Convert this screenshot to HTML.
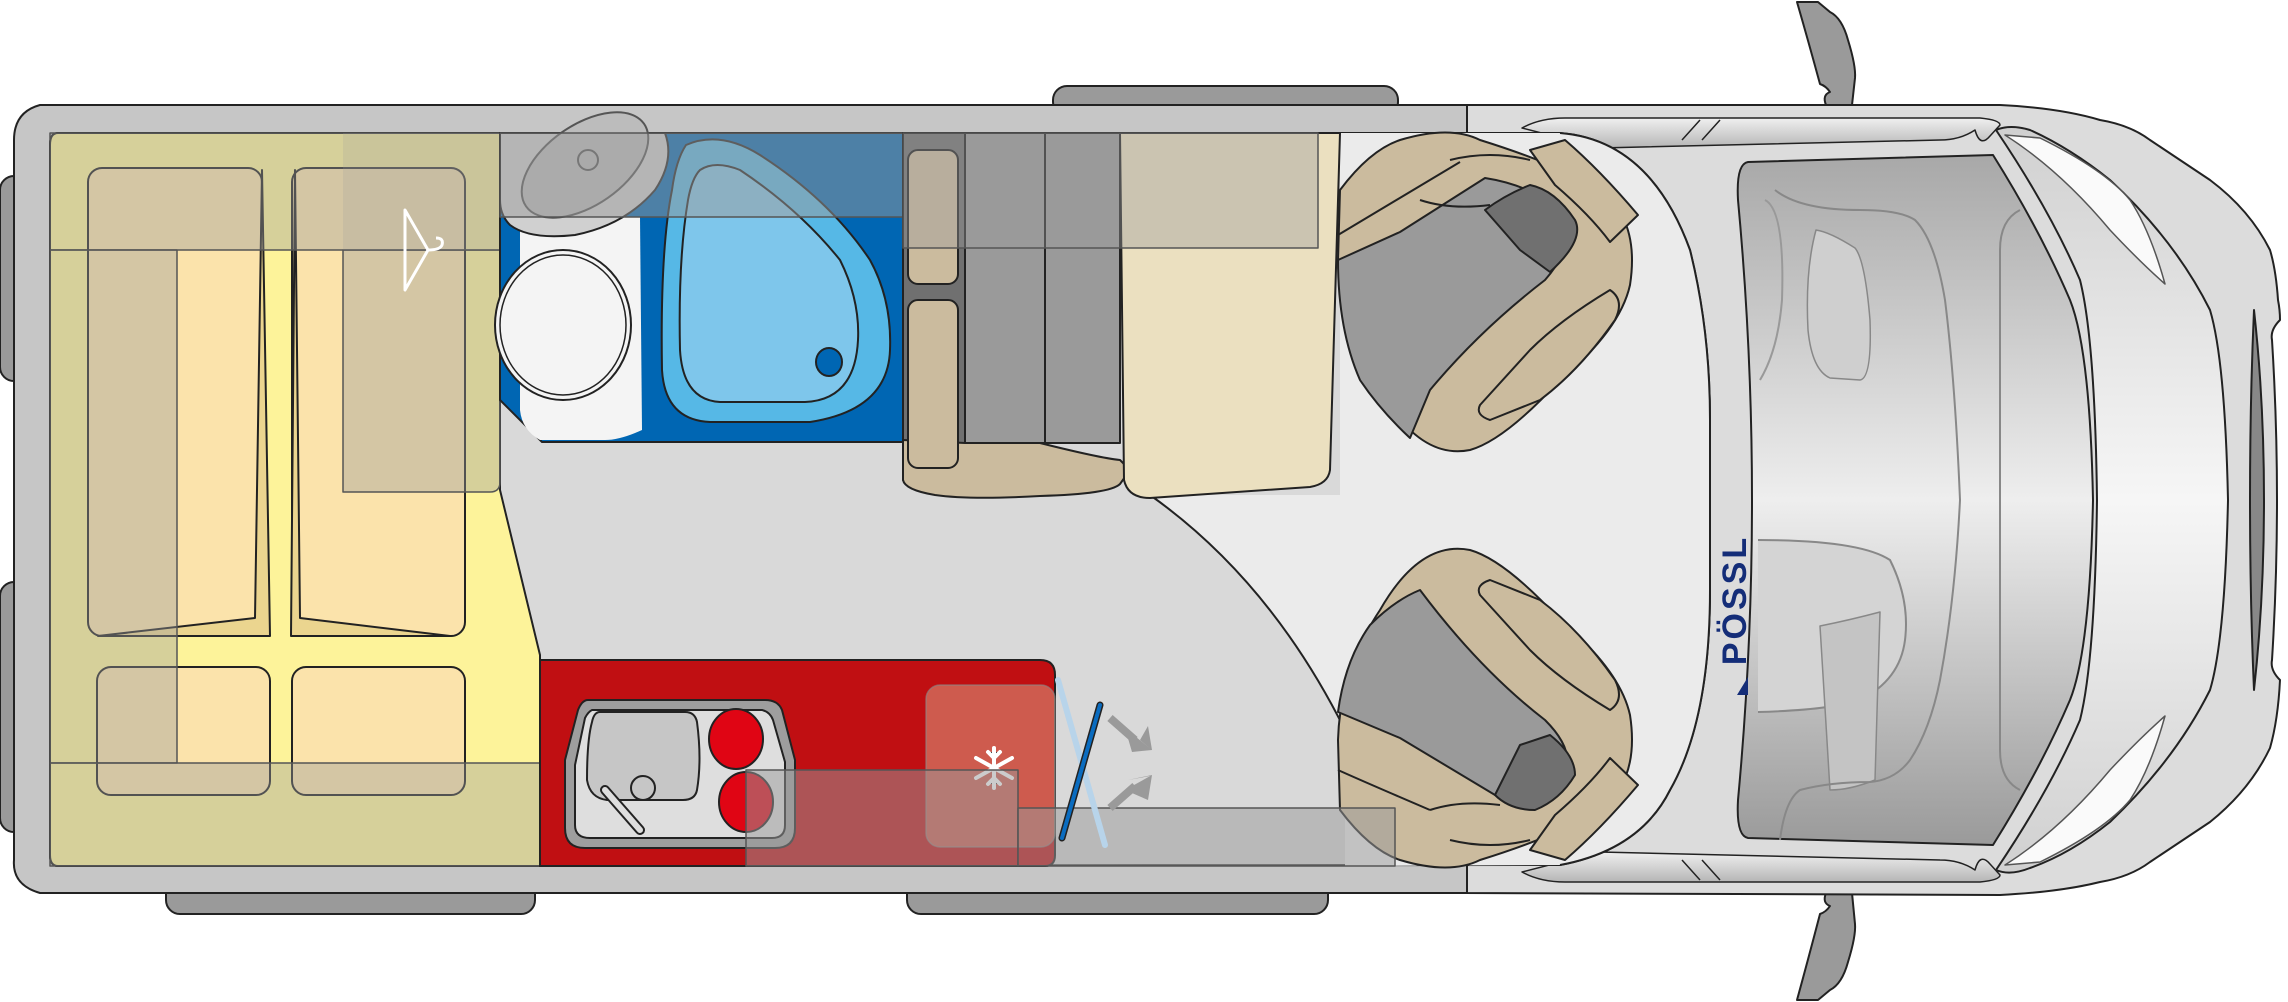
<!DOCTYPE html>
<html><head><meta charset="utf-8"><style>
html,body{margin:0;padding:0;background:#fff;}
svg{display:block;}
</style></head><body>
<svg width="2288" height="1002" viewBox="0 0 2288 1002" xmlns="http://www.w3.org/2000/svg" stroke-linejoin="round">
<defs>
<linearGradient id="dash" x1="0" y1="0" x2="0" y2="1">
<stop offset="0" stop-color="#a8a8a8"/><stop offset="0.5" stop-color="#eeeeee"/><stop offset="1" stop-color="#9a9a9a"/>
</linearGradient>
<linearGradient id="hood" x1="0" y1="0" x2="0" y2="1">
<stop offset="0" stop-color="#d0d0d0"/><stop offset="0.5" stop-color="#f6f6f6"/><stop offset="1" stop-color="#d0d0d0"/>
</linearGradient>
<linearGradient id="bar" x1="0" y1="0" x2="0" y2="1">
<stop offset="0" stop-color="#f0f0f0"/><stop offset="1" stop-color="#b5b5b5"/>
</linearGradient>
</defs>

<path d="M1797 2 L1818 2 L1830 12 Q1842 18 1848 40 Q1856 66 1855 78 L1852 105 L1826 105 Q1822 95 1830 92 Q1826 86 1820 84 Q1808 40 1797 2Z" fill="#9a9a9a" stroke="#222" stroke-width="2"/>
<path d="M1797 1000 L1818 1000 L1830 990 Q1842 984 1848 962 Q1856 936 1855 924 L1852 893 L1826 893 Q1822 903 1830 906 Q1826 912 1820 914 Q1808 960 1797 1000Z" fill="#9a9a9a" stroke="#222" stroke-width="2"/>

<rect x="1053" y="86" width="345" height="30" rx="14" fill="#9a9a9a" stroke="#222" stroke-width="2"/>
<rect x="166" y="880" width="369" height="34" rx="14" fill="#9a9a9a" stroke="#222" stroke-width="2"/>
<rect x="907" y="880" width="421" height="34" rx="14" fill="#9a9a9a" stroke="#222" stroke-width="2"/>
<rect x="0" y="176" width="30" height="205" rx="14" fill="#9a9a9a" stroke="#222" stroke-width="2"/>
<rect x="0" y="582" width="30" height="250" rx="14" fill="#9a9a9a" stroke="#222" stroke-width="2"/>

<path d="M1465 105 L2000 105 Q2060 108 2100 120 Q2130 125 2150 140 L2210 180 Q2250 210 2270 250 Q2276 270 2278 300 Q2280 310 2280 320 Q2270 330 2272 340 Q2282 500 2272 660 Q2270 670 2280 680 Q2278 720 2270 748 Q2250 790 2210 822 L2150 862 Q2130 877 2100 882 Q2060 892 2000 895 L1465 893Z" fill="#dcdcdc" stroke="#222" stroke-width="2"/>
<path d="M1996 130 Q2010 124 2030 130 Q2070 148 2110 180 Q2175 240 2210 310 Q2225 360 2228 500 Q2225 640 2210 690 Q2175 760 2110 822 Q2070 854 2030 868 Q2010 876 1996 870 Q2050 790 2080 720 Q2095 660 2097 500 Q2095 340 2080 280 Q2050 210 1996 130Z" fill="url(#hood)" stroke="#222" stroke-width="2"/>
<path d="M2005 135 Q2060 170 2110 230 Q2140 262 2165 284 Q2150 230 2130 200 Q2105 170 2040 138Z" fill="#fafafa" stroke="#555" stroke-width="1.5"/>
<path d="M2005 865 Q2060 830 2110 770 Q2140 738 2165 716 Q2150 770 2130 800 Q2105 830 2040 862Z" fill="#fafafa" stroke="#555" stroke-width="1.5"/>
<path d="M2254 310 Q2264 400 2264 500 Q2264 600 2254 690 Q2250 600 2250 500 Q2250 400 2254 310Z" fill="#888" stroke="#222" stroke-width="2"/>
<path d="M1748 162 L1993 155 Q2040 230 2070 300 Q2090 350 2093 500 Q2090 650 2070 700 Q2040 770 1993 845 L1748 838 Q1736 836 1738 800 Q1752 650 1752 500 Q1752 350 1738 200 Q1736 164 1748 162Z" fill="url(#dash)" stroke="#222" stroke-width="2"/>
<path d="M1765 200 Q1785 210 1782 300 Q1778 350 1760 380" fill="none" stroke="#999" stroke-width="2"/>
<path d="M1816 230 Q1830 232 1855 248 Q1865 260 1870 320 Q1872 378 1860 380 L1830 378 Q1812 370 1808 330 Q1805 270 1816 230Z" fill="#cfcfcf" stroke="#888" stroke-width="1.5"/>
<path d="M1758 540 Q1860 540 1890 560 Q1910 600 1905 640 Q1900 680 1860 700 Q1830 710 1758 712" fill="#d4d4d4" stroke="#888" stroke-width="2"/>
<path d="M1820 626 Q1850 620 1880 612 L1875 780 Q1850 790 1830 790Z" fill="#c4c4c4" stroke="#888" stroke-width="1.5"/>
<path d="M1780 840 Q1785 800 1800 790 Q1830 782 1870 782 Q1895 780 1910 760 Q1930 730 1940 680 Q1955 600 1960 500 Q1955 380 1945 300 Q1935 240 1915 220 Q1900 210 1860 210 Q1800 210 1775 190" fill="none" stroke="#888" stroke-width="2"/>
<path d="M2020 210 Q2000 220 2000 250 L2000 500 L2000 750 Q2000 780 2020 790" fill="none" stroke="#888" stroke-width="2"/>
<path d="M1522 128 Q1540 118 1565 118 L1980 118 Q2000 120 2000 125 L1990 136 Q1980 148 1975 130 Q1960 140 1940 140 L1600 148Z" fill="url(#bar)" stroke="#222" stroke-width="1.5"/>
<path d="M1522 872 Q1540 882 1565 882 L1980 882 Q2000 880 2000 875 L1990 864 Q1980 852 1975 870 Q1960 860 1940 860 L1600 852Z" fill="url(#bar)" stroke="#222" stroke-width="1.5"/>
<path d="M1682 140 L1700 120 M1702 140 L1720 120 M1682 860 L1700 880 M1702 860 L1720 880" stroke="#222" stroke-width="1.5"/>

<!-- living body -->
<path d="M40 105 L1467 105 L1467 893 L40 893 Q12 885 14 860 L14 140 Q14 112 40 105Z" fill="#c6c6c6" stroke="#222" stroke-width="2"/>
<!-- floor -->
<path d="M58 133 L1560 133 Q1650 140 1690 250 Q1710 330 1710 420 L1710 590 Q1710 720 1670 790 Q1640 850 1560 865 L58 866 Q50 866 50 855 L50 145 Q50 133 58 133Z" fill="#d9d9d9" stroke="#222" stroke-width="2"/>
<path d="M1150 495 L1340 495 L1340 133 L1560 133 Q1650 140 1690 250 Q1710 330 1710 420 L1710 590 Q1710 720 1670 790 Q1640 850 1560 865 L1345 866 L1345 730 Q1270 580 1150 495Z" fill="#ebebeb"/>
<path d="M1560 133 Q1650 140 1690 250 Q1710 330 1710 420 L1710 590 Q1710 720 1670 790 Q1640 850 1560 865" fill="none" stroke="#222" stroke-width="2"/>
<path d="M1150 495 Q1270 580 1345 730" fill="none" stroke="#222" stroke-width="2"/>

<path d="M58 133 L500 133 L500 490 L540 655 L540 866 L58 866 Q50 866 50 855 L50 145 Q50 133 58 133Z" fill="#fdf39a" stroke="#222" stroke-width="2"/>
<rect x="88" y="168" width="174" height="468" rx="14" fill="#fbe3ab" stroke="#222" stroke-width="2"/>
<rect x="292" y="168" width="173" height="468" rx="14" fill="#fbe3ab" stroke="#222" stroke-width="2"/>
<path d="M98 636 L255 618 L262 170 L270 636Z" fill="#ebd58f" stroke="#222" stroke-width="2"/>
<path d="M291 636 L295 170 L300 618 L450 636Z" fill="#ebd58f" stroke="#222" stroke-width="2"/>
<rect x="97" y="667" width="173" height="128" rx="14" fill="#fbe3ab" stroke="#222" stroke-width="2"/>
<rect x="292" y="667" width="173" height="128" rx="14" fill="#fbe3ab" stroke="#222" stroke-width="2"/>
<path d="M50 133 L500 133 L500 250 L50 250Z" fill="#9a9a9a" fill-opacity="0.4" stroke="#555" stroke-width="1.5"/>
<rect x="50" y="250" width="127" height="513" fill="#9a9a9a" fill-opacity="0.4" stroke="#555" stroke-width="1.5"/>
<rect x="50" y="763" width="490" height="103" fill="#9a9a9a" fill-opacity="0.4" stroke="#555" stroke-width="1.5"/>
<path d="M343 250 L500 250 L500 482 Q500 492 490 492 L343 492Z" fill="#9a9a9a" fill-opacity="0.4" stroke="#555" stroke-width="1.5"/>
<path d="M343 133 L500 133 L500 250 L343 250Z" fill="#9a9a9a" fill-opacity="0.2"/>
<path d="M405 210 L428 250 L405 290 Z M428 250 Q440 250 442 245 Q444 238 436 238" fill="none" stroke="#fff" stroke-width="3"/>

<path d="M500 133 L903 133 L903 442 L542 442 L500 400Z" fill="#0066b3" stroke="#222" stroke-width="2"/>
<path d="M520 217 L640 217 L642 430 Q620 440 605 440 L540 440 Q522 430 520 410Z" fill="#f4f4f4"/>
<ellipse cx="563" cy="325" rx="75" ry="68" transform="rotate(90 563 325)" fill="#f4f4f4" stroke="#222" stroke-width="2"/>
<ellipse cx="563" cy="325" rx="70" ry="63" transform="rotate(90 563 325)" fill="none" stroke="#222" stroke-width="1.5"/>
<path d="M686 145 Q720 130 760 155 Q830 200 870 260 Q892 300 890 350 Q888 410 810 422 L710 422 Q665 420 662 370 Q660 250 672 190 Q676 160 686 145Z" fill="#56b8e6" stroke="#222" stroke-width="2"/>
<path d="M700 170 Q715 160 740 170 Q800 210 840 260 Q860 300 858 340 Q855 400 805 402 L720 402 Q683 400 680 350 Q678 260 688 200 Q692 178 700 170Z" fill="#7ec6eb" stroke="#222" stroke-width="2"/>
<ellipse cx="829" cy="362" rx="13" ry="14" fill="#0066b3" stroke="#222" stroke-width="2"/>
<path d="M500 133 L665 133 Q675 160 655 190 Q625 225 575 235 Q530 240 510 225 Q500 215 500 200Z" fill="#d0d0d0" stroke="#222" stroke-width="2"/>
<ellipse cx="585" cy="165" rx="40" ry="72" transform="rotate(55 585 165)" fill="#bcbcbc" stroke="#555" stroke-width="2"/>
<circle cx="588" cy="160" r="10" fill="#bbb" stroke="#555" stroke-width="2"/>
<rect x="500" y="133" width="403" height="84" fill="#9a9a9a" fill-opacity="0.5" stroke="#555" stroke-width="1.5"/>

<rect x="903" y="133" width="62" height="347" fill="#707070" stroke="#222" stroke-width="2"/>
<rect x="965" y="133" width="155" height="310" fill="#9a9a9a" stroke="#222" stroke-width="2"/>
<line x1="1045" y1="133" x2="1045" y2="443" stroke="#222" stroke-width="2"/>
<path d="M903 480 Q905 490 935 495 Q970 500 1040 496 Q1110 494 1120 484 L1130 470 L1120 460 Q1100 458 1040 443 L965 443 L903 440Z" fill="#cbbb9e" stroke="#222" stroke-width="2"/>
<rect x="908" y="150" width="50" height="134" rx="10" fill="#cbbb9e" stroke="#222" stroke-width="2"/>
<rect x="908" y="300" width="50" height="168" rx="10" fill="#cbbb9e" stroke="#222" stroke-width="2"/>
<path d="M1120 133 L1340 133 L1330 470 Q1328 484 1310 487 L1150 498 Q1128 498 1124 480Z" fill="#ebe0c0" stroke="#222" stroke-width="2"/>
<rect x="903" y="133" width="415" height="115" fill="#9a9a9a" fill-opacity="0.4" stroke="#555" stroke-width="1.5"/>

<path d="M1340 190 Q1370 150 1400 140 Q1450 125 1480 140 Q1560 165 1600 190 Q1640 220 1630 285 Q1620 330 1560 380 Q1505 440 1470 450 Q1420 460 1380 390 Q1340 330 1338 260Z" fill="#cbbb9e" stroke="#222" stroke-width="2"/>
<path d="M1338 260 L1400 232 L1485 178 Q1530 185 1560 210 Q1580 240 1545 280 Q1480 330 1430 390 L1410 438 Q1380 410 1360 380 Q1338 330 1338 260Z" fill="#9a9a9a" stroke="#222" stroke-width="2"/>
<path d="M1485 210 Q1505 195 1530 185 Q1555 190 1575 220 Q1585 240 1550 272 L1520 250Z" fill="#707070" stroke="#222" stroke-width="2"/>
<path d="M1530 150 L1565 140 Q1600 170 1638 215 L1610 242 Q1590 215 1555 185Z" fill="#cbbb9e" stroke="#222" stroke-width="2"/>
<path d="M1338 235 L1460 162 M1420 200 Q1450 210 1490 205 M1450 160 Q1490 150 1530 160" fill="none" stroke="#222" stroke-width="2"/>
<path d="M1530 350 Q1560 320 1610 290 Q1625 300 1615 320 Q1580 370 1540 400 Q1515 410 1490 420 Q1475 415 1480 405Z" fill="#cbbb9e" stroke="#222" stroke-width="2"/>
<path d="M1340 810 Q1370 850 1400 860 Q1450 875 1480 860 Q1560 835 1600 810 Q1640 780 1630 715 Q1620 670 1560 620 Q1505 560 1470 550 Q1420 540 1380 610 Q1340 670 1338 740Z" fill="#cbbb9e" stroke="#222" stroke-width="2"/>
<path d="M1338 712 L1400 738 L1495 795 Q1530 800 1560 780 Q1580 755 1545 720 Q1480 670 1420 590 Q1395 600 1370 625 Q1345 660 1338 712Z" fill="#9a9a9a" stroke="#222" stroke-width="2"/>
<path d="M1495 795 Q1510 810 1535 810 Q1560 800 1575 775 Q1575 755 1550 735 L1520 745Z" fill="#707070" stroke="#222" stroke-width="2"/>
<path d="M1530 850 L1565 860 Q1600 830 1638 785 L1610 758 Q1590 785 1555 815Z" fill="#cbbb9e" stroke="#222" stroke-width="2"/>
<path d="M1338 770 Q1360 780 1430 810 M1430 810 Q1460 800 1500 805 M1450 840 Q1490 850 1530 840" fill="none" stroke="#222" stroke-width="2"/>
<path d="M1530 650 Q1560 680 1610 710 Q1625 700 1615 680 Q1580 630 1540 600 Q1515 590 1490 580 Q1475 585 1480 595Z" fill="#cbbb9e" stroke="#222" stroke-width="2"/>

<text x="0" y="0" transform="translate(1746 600) rotate(-90)" text-anchor="middle" font-family="Liberation Sans, sans-serif" font-weight="bold" font-size="34" fill="#142d78" letter-spacing="3">PÖSSL</text>
<path d="M1737 695 L1748 677 L1748 695Z" fill="#142d78"/>

<path d="M540 660 L1040 660 Q1055 660 1055 675 L1055 855 Q1055 866 1045 866 L540 866Z" fill="#c00f12" stroke="#222" stroke-width="2"/>
<path d="M588 700 L765 700 Q778 700 782 710 L795 760 L795 828 Q795 848 775 848 L585 848 Q565 848 565 828 L565 760 L578 710 Q582 700 588 700Z" fill="#9e9e9e" stroke="#222" stroke-width="2"/>
<path d="M592 710 L762 710 Q770 712 773 720 L785 762 L785 825 Q785 838 772 838 L590 838 Q575 838 575 825 L575 765 L585 718 Q588 712 592 710Z" fill="#dedede" stroke="#222" stroke-width="2"/>
<path d="M600 712 L685 712 Q695 712 697 722 Q702 760 697 790 Q695 800 683 800 L607 800 Q590 798 587 780 Q587 740 592 722 Q594 712 600 712Z" fill="#c6c6c6" stroke="#222" stroke-width="2"/>
<circle cx="643" cy="788" r="12" fill="#c6c6c6" stroke="#222" stroke-width="2"/>
<path d="M605 790 L640 830" stroke="#222" stroke-width="10" stroke-linecap="round"/>
<path d="M605 790 L640 830" stroke="#dedede" stroke-width="6" stroke-linecap="round"/>
<ellipse cx="736" cy="739" rx="27" ry="30" fill="#e00514" stroke="#222" stroke-width="2"/>
<ellipse cx="746" cy="802" rx="27" ry="30" fill="#e00514" stroke="#222" stroke-width="2"/>
<rect x="926" y="685" width="129" height="162" rx="14" fill="#d89a80" fill-opacity="0.55" stroke="#888" stroke-opacity="0.6" stroke-width="1.5"/>
<g stroke="#fff" stroke-width="4" stroke-linecap="round">
<path d="M994 748 L994 788 M976 758 L1012 778 M976 778 L1012 758 M988 752 L994 758 L1000 752 M988 784 L994 778 L1000 784"/>
</g>
<rect x="746" y="770" width="272" height="96" fill="#9a9a9a" fill-opacity="0.5" stroke="#555" stroke-width="1.5"/>
<rect x="1018" y="808" width="377" height="58" fill="#9a9a9a" fill-opacity="0.5" stroke="#555" stroke-width="1.5"/>
<path d="M1058 680 L1105 845" stroke="#b8d4ea" stroke-width="6" stroke-linecap="round"/>
<path d="M1100 705 L1062 838" stroke="#222" stroke-width="7" stroke-linecap="round"/>
<path d="M1100 705 L1062 838" stroke="#0a6cc0" stroke-width="4" stroke-linecap="round"/>
<path d="M1110 718 L1135 740" stroke="#9a9a9a" stroke-width="8"/>
<path d="M1125 728 L1152 750 L1132 752Z M1140 740 L1148 726 L1152 750Z" fill="#9a9a9a"/>
<path d="M1110 808 L1135 786" stroke="#9a9a9a" stroke-width="8"/>
<path d="M1125 790 L1152 775 L1148 800Z M1128 780 L1150 776 L1152 775Z" fill="#9a9a9a"/>
</svg>
</body></html>
